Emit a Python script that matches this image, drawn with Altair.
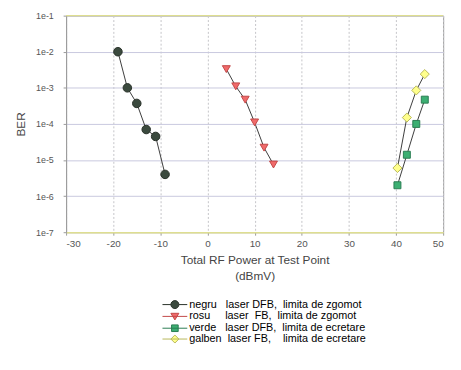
import altair as alt
import pandas as pd

# ---- data ----
negru_x = [-19, -17, -15, -13, -11, -9]
negru_y = [1e-2, 1e-3, 3.7e-4, 7e-5, 4.5e-5, 4e-6]

rosu_x = [4, 6, 8, 10, 12, 14]
rosu_y = [3.3e-3, 1.1e-3, 4.7e-4, 1.1e-4, 2.2e-5, 7.5e-6]

verde_x = [40.3, 42.3, 44.3, 46.1]
verde_y = [2e-6, 1.4e-5, 1e-4, 4.7e-4]

galben_x = [40.3, 42.3, 44.3, 46.1]
galben_y = [6e-6, 1.5e-4, 8.5e-4, 2.4e-3]

x_ticks = [-30, -20, -10, 0, 10, 20, 30, 40, 50]
y_ticks = [1e-7, 1e-6, 1e-5, 1e-4, 1e-3, 1e-2, 1e-1]
y_top = [1e-1]

NB = "\u00a0"
legend_labels = [
    "negru" + NB * 3 + "laser DFB," + NB * 2 + "limita de zgomot",
    "rosu" + NB * 5 + "laser" + NB * 2 + "FB," + NB * 2 + "limita de zgomot",
    "verde" + NB * 3 + "laser DFB," + NB * 2 + "limita de ecretare",
    "galben" + NB * 2 + "laser FB," + NB * 4 + "limita de ecretare",
]
fills = ["#3b4a3e", "#f06a6a", "#3caf72", "#ffff8c"]
strokes = ["#283028", "#c24848", "#2b7d52", "#b8b85a"]
shapes = ["circle", "triangle-down", "square", "diamond"]
sizes = [75, 65, 50, 85]

# legend symbols: short line with a marker
legend_paths = [
    "M-2.8,0H-0.9M0.9,0H2.8M-0.9,0A0.9,0.9 0 1,1 0.9,0A0.9,0.9 0 1,1 -0.9,0Z",
    "M-2.8,0H2.8M-0.9,-0.7L0.9,-0.7L0,0.8Z",
    "M-2.8,0H2.8M-0.75,-0.75H0.75V0.75H-0.75Z",
    "M-2.8,0H2.8M0,-0.9L0.9,0L0,0.9L-0.9,0Z",
]

series = [
    (negru_x, negru_y),
    (rosu_x, rosu_y),
    (verde_x, verde_y),
    (galben_x, galben_y),
]

FONT = "Liberation Sans"

x_enc = alt.X(
    "x:Q",
    scale=alt.Scale(domain=[-30, 50], nice=False, zero=False),
    axis=alt.Axis(
        values=x_ticks,
        labelExpr="datum.value < 0 ? '-' + abs(datum.value) : '' + datum.value",
        title=["Total RF Power at Test Point", "(dBmV)"],
        titleFont=FONT, titleFontSize=12, titleFontWeight="normal", titleColor="#444",
        titlePadding=6, titleLineHeight=16,
        labelFont=FONT, labelFontSize=10, labelColor="#555", labelPadding=4,
        tickSize=3, tickColor="#999",
        domainColor="#dede90", domainWidth=1.5,
        grid=True, gridColor="#c4c4c8", gridDash=[2, 2],
    ),
)
y_enc = alt.Y(
    "y:Q",
    scale=alt.Scale(type="log", domain=[1e-7, 1e-1], nice=False),
    axis=alt.Axis(
        values=y_ticks,
        labelExpr="'1e' + round(log(datum.value) / LN10)",
        title="BER",
        titleFont=FONT, titleFontSize=12, titleFontWeight="normal", titleColor="#444",
        titlePadding=8,
        labelFont=FONT, labelFontSize=9, labelColor="#555", labelPadding=10,
        tickSize=3, tickColor="#999",
        domainColor="#9a9a9a",
        grid=True, gridColor="#c8c8de",
    ),
)

layers = []
# yellowish top border
top_df = pd.DataFrame({"y": y_top})
layers.append(
    alt.Chart(top_df).mark_rule(color="#dede90", strokeWidth=1.5).encode(
        y=alt.Y("y:Q", scale=alt.Scale(type="log", domain=[1e-7, 1e-1], nice=False))
    )
)
for i, (xs, ys) in enumerate(series):
    df = pd.DataFrame({"x": xs, "y": ys})
    layers.append(alt.Chart(df).mark_line(color="#3c3c3c", strokeWidth=1).encode(x=x_enc, y=y_enc))
for i, (xs, ys) in enumerate(series):
    df = pd.DataFrame({"x": xs, "y": ys})
    layers.append(
        alt.Chart(df).mark_point(
            shape=shapes[i], size=sizes[i], filled=True, fill=fills[i],
            stroke=strokes[i], strokeWidth=1, opacity=1,
        ).encode(x=x_enc, y=y_enc)
    )

# legend-only layer (no marks drawn)
leg_df = pd.DataFrame({"label": legend_labels, "x": [0] * 4, "y": [1e-3] * 4})
legend_layer = (
    alt.Chart(leg_df)
    .transform_filter("false")
    .mark_point(filled=True, opacity=1, strokeWidth=1)
    .encode(
        x=x_enc,
        y=y_enc,
        shape=alt.Shape("label:N", scale=alt.Scale(domain=legend_labels, range=legend_paths),
                        legend=alt.Legend(title=None)),
        fill=alt.Fill("label:N", scale=alt.Scale(domain=legend_labels, range=fills),
                      legend=alt.Legend(title=None)),
        stroke=alt.Stroke("label:N", scale=alt.Scale(domain=legend_labels, range=strokes),
                          legend=alt.Legend(title=None)),
    )
)
layers.append(legend_layer)

chart = (
    alt.layer(*layers)
    .properties(
        width=383,
        height=220,
        autosize=alt.AutoSizeParams(type="none"),
        padding={"left": 59, "top": 5, "right": 10, "bottom": 125},
        background="white",
    )
    .configure_view(stroke="#9a9a9a", strokeWidth=1)
    .configure_legend(
        orient="none", legendX=105, legendY=288, padding=0,
        labelFont=FONT, labelFontSize=11, labelColor="#000", labelOffset=9,
        symbolSize=81, symbolStrokeWidth=1, rowPadding=-1, labelLimit=300,
    )
)

chart.save("out.html", embed_options={"renderer": "svg", "actions": False})
